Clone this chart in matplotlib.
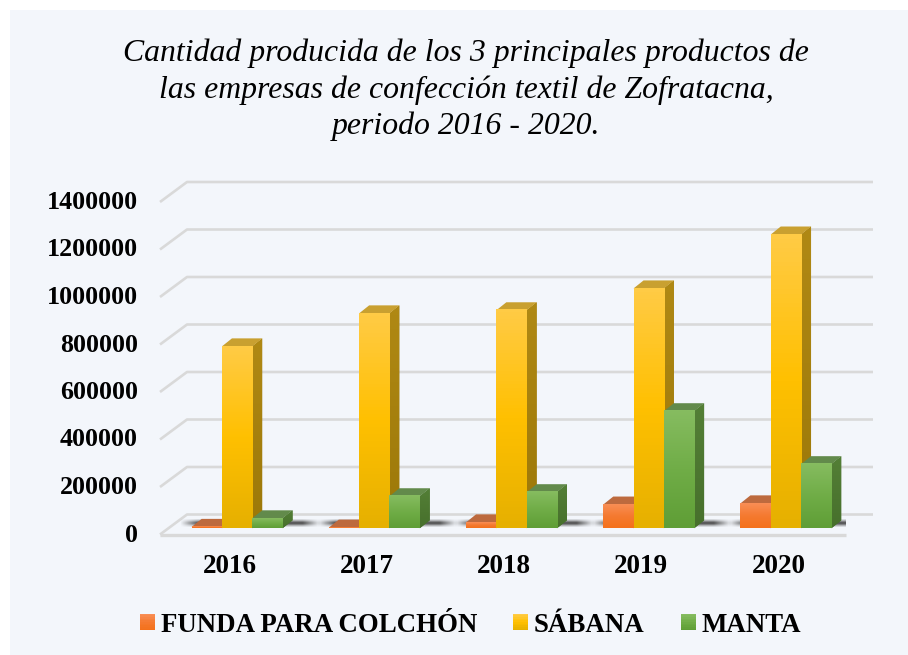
import numpy as np
import matplotlib.pyplot as plt
from matplotlib.colors import LinearSegmentedColormap, to_rgb
from matplotlib.legend_handler import HandlerBase
from matplotlib.patches import Patch, Polygon, Rectangle
from matplotlib.transforms import ScaledTranslation

TITLE = (
    "Cantidad producida de los 3 principales productos de\n"
    "las empresas de confección textil de Zofratacna,\n"
    "periodo 2016 - 2020."
)
years = ["2016", "2017", "2018", "2019", "2020"]
funda = [6000, 3000, 25000, 100000, 105000]
sabana = [766000, 905000, 918000, 1010000, 1237000]
manta = [42000, 135000, 152000, 493000, 270000]
y_ticks = [0, 200000, 400000, 600000, 800000, 1000000, 1200000, 1400000]

series = [
    ("FUNDA PARA COLCHÓN", funda, ["#F98E55", "#F57A30", "#F4711B"], "#BD6A3E", "#A85A2C"),
    ("SÁBANA", sabana, ["#FFCB45", "#FFC000", "#E6B000"], "#C9A030", "#9C7808"),
    ("MANTA", manta, ["#86BC60", "#70AD47", "#5F9E36"], "#628A4B", "#47702C"),
]

BG = "#F3F6FB"
GRID = "#D9D9D9"
W, H = 908, 655

# axes box is the front edge of the floor, in pixels
LEFT, RIGHT, BASE, TOP = 160, 846, 534.5, 202
PX_X = 5 / (RIGHT - LEFT)
PX_Y = 1400000 / (BASE - TOP)
BAR_W = 30.3 * PX_X


class GradientHandler(HandlerBase):
    def create_artists(self, legend, orig, xd, yd, width, height, fontsize, trans):
        cmap = LinearSegmentedColormap.from_list("h", orig.stops)
        n = 10
        return [
            Rectangle(
                (-xd, -yd + height * (n - 1 - i) / n),
                width,
                height / n,
                facecolor=cmap(i / (n - 1)),
                edgecolor="none",
                transform=trans,
            )
            for i in range(n)
        ]


def draw_shadow(ax, x0, x1, y):
    ramp = 18 * PX_X
    xs = np.linspace(x0, x1, 160)
    ax_prof = np.clip((xs - x0) / ramp, 0, 1) * np.clip((x1 - xs) / ramp, 0, 1)
    ys = np.linspace(-1, 1, 12)
    ay_prof = np.exp(-(ys**2) * 2.0)
    rgba = np.zeros((12, 160, 4))
    rgba[..., :3] = 0.25
    rgba[..., 3] = np.outer(ay_prof, ax_prof) * 0.9
    ax.imshow(
        rgba,
        extent=[x0, x1, y - 4 * PX_Y, y + 4 * PX_Y],
        aspect="auto",
        zorder=2,
        interpolation="bilinear",
    )


def main() -> None:
    fig = plt.figure(figsize=(W / 100, H / 100), dpi=100, facecolor="white")
    fig.add_artist(
        Rectangle(
            (10 / W, 0), 898 / W, 645 / H, transform=fig.transFigure, facecolor=BG, edgecolor="none", zorder=-1
        )
    )
    ax = fig.add_axes([LEFT / W, 1 - BASE / H, (RIGHT - LEFT) / W, (BASE - TOP) / H])
    ax.patch.set_visible(False)
    plt.rcParams["font.family"] = "Liberation Serif"

    x = np.arange(len(years))

    # wall and floor lines
    back_dx, back_dy = 27 * PX_X, 20 * PX_Y
    for val in y_ticks:
        ax.plot(
            [-0.5, -0.5 + back_dx, 4.5 + back_dx],
            [val, val + back_dy, val + back_dy],
            color=GRID,
            lw=1.9,
            clip_on=False,
            zorder=1,
            solid_joinstyle="round",
            solid_capstyle="butt",
        )
    ax.plot([-0.5, 4.5], [0, 0], color=GRID, lw=2.4, clip_on=False, zorder=1, solid_capstyle="butt")

    # bars sit a little way into the floor
    off_x, off_y = 8.5 * PX_X, 6.2 * PX_Y
    dep_x, dep_y = 10 * PX_X, 8 * PX_Y

    for i in x:
        draw_shadow(ax, i + off_x - 1.5 * BAR_W - 12 * PX_X, i + off_x + 1.5 * BAR_W + 38 * PX_X, off_y + 5.5 * PX_Y)

    handles = []
    # left to right so each bar covers the side of the one before it
    for k, (name, vals, stops, top_col, side_col) in enumerate(series):
        cmap = LinearSegmentedColormap.from_list(name, stops)
        side_cmap = LinearSegmentedColormap.from_list(
            name + "s", [tuple(0.8 * c + 0.2 * t for c, t in zip(to_rgb(side_col), to_rgb(stops[0]))), side_col]
        )
        pos = x + off_x + (k - 1) * BAR_W
        z = 3 + k
        bars = ax.bar(pos, vals, BAR_W, bottom=off_y, color=stops[1], zorder=z, clip_on=False)
        for bar in bars:
            x0, x1 = bar.get_x(), bar.get_x() + bar.get_width()
            y0, y1 = bar.get_y(), bar.get_y() + bar.get_height()
            grad = np.linspace(0, 1, 64).reshape(-1, 1)
            side_poly = Polygon(
                [(x1, y0), (x1 + dep_x, y0 + dep_y), (x1 + dep_x, y1 + dep_y), (x1, y1)],
                facecolor=side_col,
                edgecolor="none",
                zorder=z,
                clip_on=False,
            )
            ax.add_patch(side_poly)
            side = ax.imshow(
                grad,
                cmap=side_cmap,
                extent=[x1, x1 + dep_x, y0, y1 + dep_y],
                aspect="auto",
                zorder=z,
            )
            side.set_clip_path(side_poly)
            ax.add_patch(
                Polygon(
                    [(x0, y1), (x0 + dep_x, y1 + dep_y), (x1 + dep_x, y1 + dep_y), (x1, y1)],
                    facecolor=top_col,
                    edgecolor="none",
                    zorder=z,
                    clip_on=False,
                )
            )
            front = ax.imshow(grad, cmap=cmap, extent=[x0, x1, y0, y1], aspect="auto", zorder=z + 0.1)
            front.set_clip_on(False)
        h = Patch(facecolor=stops[1], label=name)
        h.stops = stops
        handles.append(h)

    ax.set_xlim(-0.5, 4.5)
    ax.set_ylim(0, 1400000)
    ax.set_xticks(x, years)
    ax.set_yticks(y_ticks, [str(v) for v in y_ticks])
    ax.tick_params(axis="y", length=0, pad=16, labelsize=18.7)
    ax.tick_params(axis="x", length=0, pad=14, labelsize=19.5)
    for lab in ax.get_xticklabels() + ax.get_yticklabels():
        lab.set_fontweight("bold")
        lab.set_fontfamily("Liberation Serif")
    for lab in ax.get_xticklabels():
        lab.set_transform(lab.get_transform() + ScaledTranslation(1 / 100, 0, fig.dpi_scale_trans))
    for lab in ax.get_yticklabels():
        lab.set_transform(lab.get_transform() + ScaledTranslation(0, 2 / 100, fig.dpi_scale_trans))
    for spine in ax.spines.values():
        spine.set_visible(False)

    ax.legend(
        handles=handles,
        handler_map={Patch: GradientHandler()},
        loc="center",
        bbox_to_anchor=((470.5 - LEFT) / (RIGHT - LEFT), (BASE - 625) / (BASE - TOP)),
        ncol=3,
        frameon=False,
        handlelength=0.56,
        handleheight=0.56,
        handletextpad=0.22,
        columnspacing=1.34,
        borderpad=0,
        prop={"family": "Liberation Serif", "weight": "bold", "size": 19.35},
    )

    fig.text(
        466 / W,
        1 - 90 / H,
        TITLE,
        ha="center",
        va="center",
        fontsize=22.9,
        style="italic",
        family="Liberation Serif",
        linespacing=1.31,
    )

    fig.savefig("out.png", dpi=100)


if __name__ == "__main__":
    main()
